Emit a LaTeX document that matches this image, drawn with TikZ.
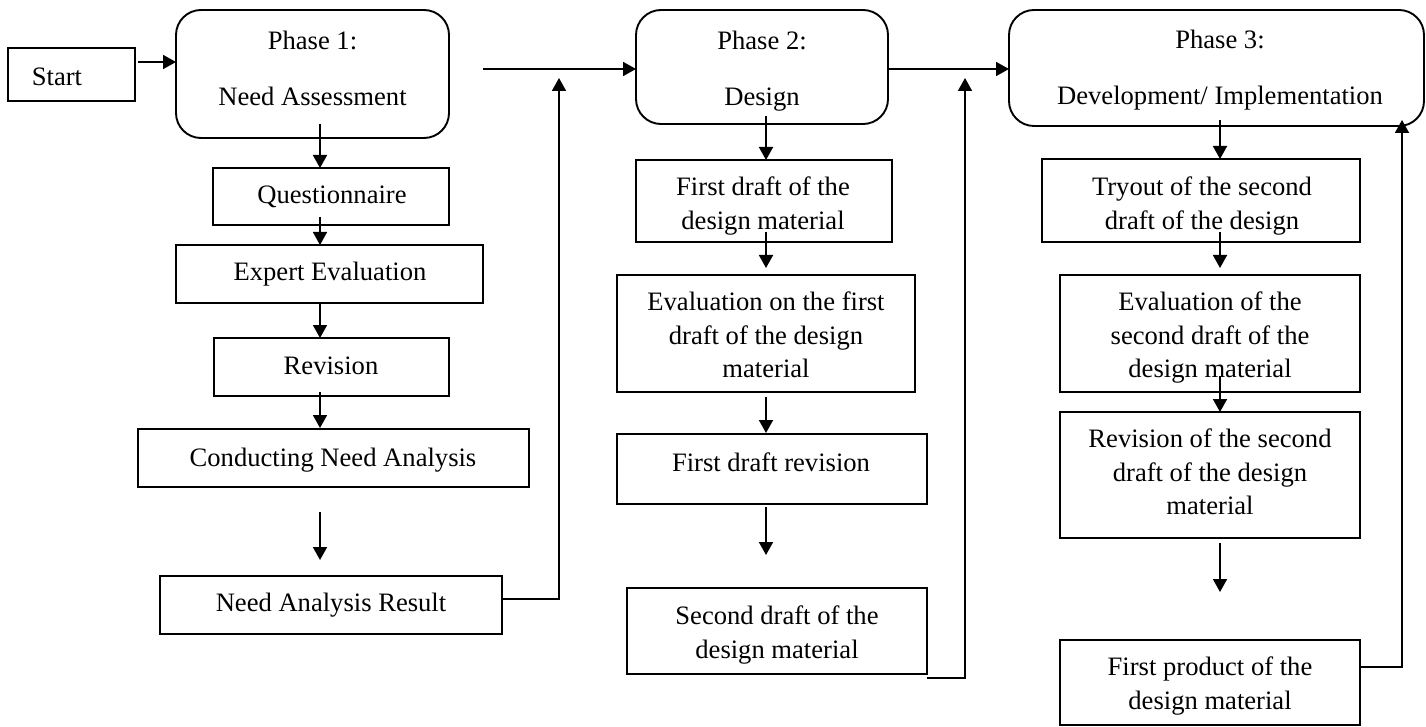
\documentclass[tikz,border=0pt]{standalone}
\usepackage{fontspec}
\setmainfont{Liberation Serif}
\usetikzlibrary{arrows.meta}
\begin{document}
\begin{tikzpicture}[x=1pt,y=-1pt,
  box/.style={draw, line width=1.9pt, inner sep=0pt, outer sep=0pt},
  phase/.style={box, rounded corners=25pt},
  lbl/.style={font=\fontsize{26.6}{33.5}\selectfont, align=center, inner sep=0pt},
  plbl/.style={font=\fontsize{26.6}{56}\selectfont, align=center, inner sep=0pt},
  arr/.style={line width=1.8pt, -{Triangle[width=14pt,length=13pt]}}]
\useasboundingbox (0,0) rectangle (1426,727);
% boxes
\node[box, minimum width=127pt, minimum height=53pt] (start) at (71.5,74.5) {};
\node[phase, minimum width=273pt, minimum height=128pt] (p1) at (312.5,74) {};
\node[box, minimum width=236pt, minimum height=57pt] (q) at (331,196.5) {};
\node[box, minimum width=307pt, minimum height=58pt] (ex) at (329.5,274) {};
\node[box, minimum width=235pt, minimum height=58pt] (rv) at (331.5,367) {};
\node[box, minimum width=391pt, minimum height=58pt] (cn) at (333.5,458) {};
\node[box, minimum width=342pt, minimum height=58pt] (nr) at (331,605) {};
\node[phase, minimum width=252pt, minimum height=114pt] (p2) at (762,67) {};
\node[box, minimum width=256pt, minimum height=82pt] (f1) at (764,201) {};
\node[box, minimum width=298pt, minimum height=117pt] (e1) at (766,333.5) {};
\node[box, minimum width=310pt, minimum height=70pt] (fr) at (772,469) {};
\node[box, minimum width=300pt, minimum height=86pt] (s2) at (777,631) {};
\node[phase, minimum width=415pt, minimum height=116pt] (p3) at (1216.5,68) {};
\node[box, minimum width=318pt, minimum height=83pt] (ty) at (1201,200.5) {};
\node[box, minimum width=300pt, minimum height=117pt] (e2) at (1210,333.5) {};
\node[box, minimum width=300pt, minimum height=126pt] (r2) at (1210,475) {};
\node[box, minimum width=300pt, minimum height=85pt] (fp) at (1210,682.5) {};
% texts
\node[lbl] (tstart) at (57,77) {Start};
\node[plbl] (tp1) at (312.5,68) {Phase 1:\\Need Assessment};
\node[lbl] (tq) at (332,197) {Questionnaire};
\node[lbl] (tex) at (330,274) {Expert Evaluation};
\node[lbl] (trv) at (331,366) {Revision};
\node[lbl] (tcn) at (333,460) {Conducting Need Analysis};
\node[lbl] (tnr) at (331,605) {Need Analysis Result};
\node[plbl] (tp2) at (762,71) {Phase 2:\\Design};
\node[lbl] (tf1) at (763,206) {First draft of the\\design material};
\node[lbl] (te1) at (766,335) {Evaluation on the first\\draft of the design\\material};
\node[lbl] (tfr) at (771,462) {First draft revision};
\node[lbl] (ts2) at (777,635) {Second draft of the\\design material};
\node[plbl] (tp3) at (1220,70) {Phase 3:\\Development/ Implementation};
\node[lbl] (tty) at (1202,206) {Tryout of the second\\draft of the design};
\node[lbl] (te2) at (1210,338) {Evaluation of the\\second draft of the\\design material};
\node[lbl] (tr2) at (1210,472) {Revision of the second\\draft of the design\\material};
\node[lbl] (tfp) at (1210,686) {First product of the\\design material};
% column coordinates
\coordinate (c1) at (320,0);
\coordinate (c2) at (766,0);
\coordinate (c3) at (1220,0);
\coordinate (s0) at ([xshift=3pt,yshift=12.5pt]start.east);
\coordinate (h1) at (483,69);
\coordinate (k1) at (559,78);
\coordinate (k2) at (965,78);
\coordinate (k3) at (1402,120);
% connectors
\draw[arr] (s0) -- (s0 -| p1.west);
\draw[arr] ([yshift=14pt]p1.south -| c1) -- (q.north -| c1);
\draw[arr] ([yshift=8pt]q.south -| c1) -- (ex.north -| c1);
\draw[arr] (ex.south -| c1) -- (rv.north -| c1);
\draw[arr] ([yshift=4pt]rv.south -| c1) -- ([yshift=1pt]cn.north -| c1);
\draw[arr] ([yshift=-25pt]cn.south -| c1) -- ([yshift=16pt]nr.north -| c1);
\draw[arr] ([yshift=6pt]nr.east) -| (k1);
\draw[arr] (h1) -- (h1 -| p2.west);
\draw[arr] ([yshift=8pt]p2.south -| c2) -- (f1.north -| c2);
\draw[arr] ([yshift=10pt]f1.south -| c2) -- ([yshift=7pt]e1.north -| c2);
\draw[arr] ([yshift=-5pt]e1.south -| c2) -- ([yshift=1pt]fr.north -| c2);
\draw[arr] ([yshift=-3pt]fr.south -| c2) -- ([yshift=33pt]s2.north -| c2);
\draw[arr] ([yshift=-4pt]s2.south east) -| (k2);
\draw[arr] ([yshift=-2pt]p2.east) -- ([yshift=-2pt]p2.east -| p3.west);
\draw[arr] ([yshift=6pt]p3.south -| c3) -- (ty.north -| c3);
\draw[arr] ([yshift=10pt]ty.south -| c3) -- ([yshift=7pt]e2.north -| c3);
\draw[arr] ([yshift=16pt]e2.south -| c3) -- (r2.north -| c3);
\draw[arr] ([yshift=-5pt]r2.south -| c3) -- ([yshift=48pt]fp.north -| c3);
\draw[arr] ([yshift=15.5pt]fp.east) -| (k3);
\end{tikzpicture}
\end{document}
